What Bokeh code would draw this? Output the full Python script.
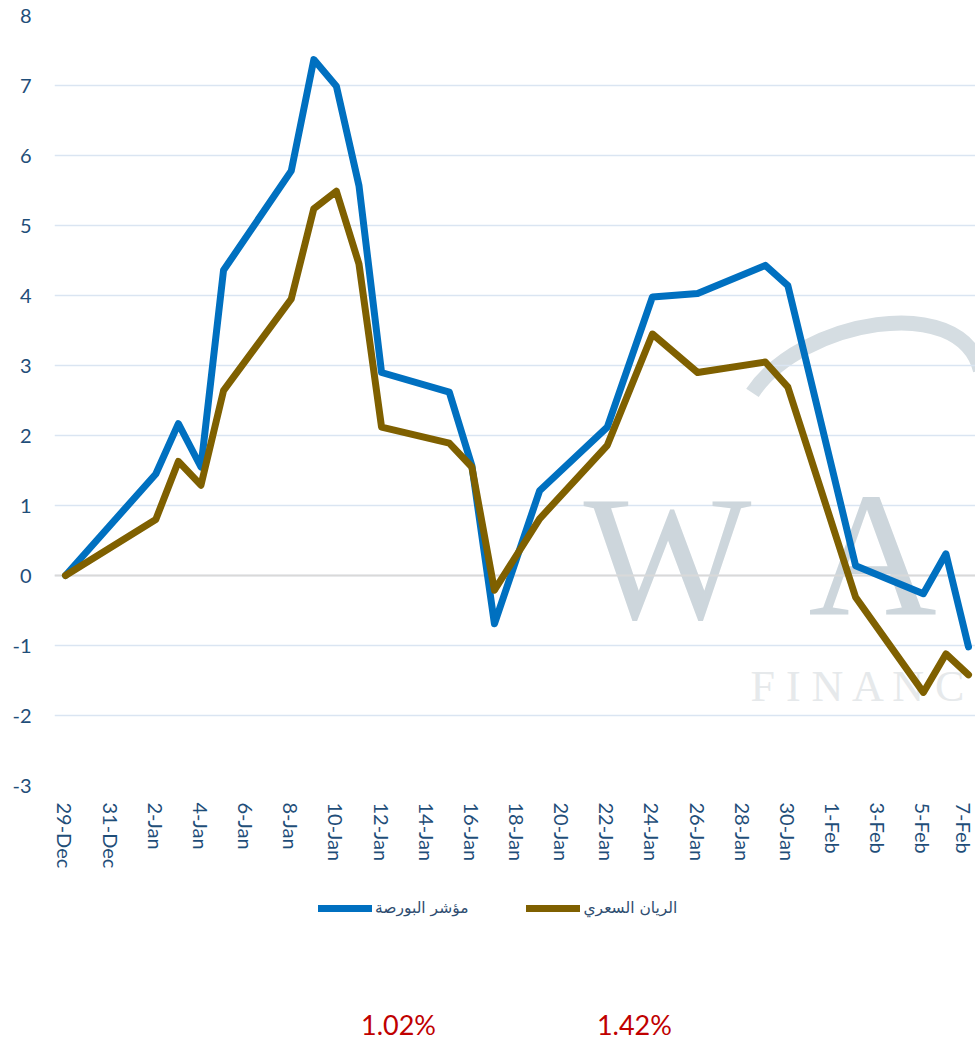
import pandas as pd
from bokeh.plotting import figure
from bokeh.layouts import column
from bokeh.models import Range1d, FixedTicker, Span, Legend, LegendItem, Label
from bokeh.core.properties import value
from bokeh.embed import file_html
from bokeh.resources import INLINE

# ---- data ----
dates = ["2017-12-29", "2018-01-02", "2018-01-03", "2018-01-04", "2018-01-05",
         "2018-01-08", "2018-01-09", "2018-01-10", "2018-01-11", "2018-01-12",
         "2018-01-15", "2018-01-16", "2018-01-17", "2018-01-19", "2018-01-22",
         "2018-01-24", "2018-01-26", "2018-01-29", "2018-01-30", "2018-02-02",
         "2018-02-05", "2018-02-06", "2018-02-07"]
index_series = [0.00, 1.45, 2.17, 1.55, 4.36, 5.78, 7.37, 6.99, 5.57, 2.90,
                2.62, 1.57, -0.69, 1.21, 2.12, 3.98, 4.03, 4.43, 4.14, 0.14,
                -0.26, 0.31, -1.02]
rayan_series = [0.00, 0.80, 1.63, 1.29, 2.64, 3.95, 5.24, 5.49, 4.45, 2.12,
                1.89, 1.55, -0.21, 0.81, 1.86, 3.45, 2.90, 3.05, 2.69, -0.31,
                -1.67, -1.12, -1.42]
index_name = "مؤشر البورصة"
rayan_name = "الريان السعري"
y_ticks = list(range(-3, 9))
tick_step_days = 2

# ---- derived ----
dt = pd.to_datetime(dates)
start = dt[0]
xdays = [(d - start).days for d in dt]
last_day = xdays[-1]
x_ticks = list(range(0, last_day + 1, tick_step_days))
x_labels = {t: (start + pd.Timedelta(days=t)).strftime("%-d-%b") for t in x_ticks}
y_labels = {t: str(t) for t in y_ticks}
final_changes = [f"{abs(s[-1]):.2f}%" for s in (index_series, rayan_series)]

BLUE = "#0070C0"
BROWN = "#7F6000"
TXT = "#1F4E79"
LW = 7
LEFT = 54

xr = Range1d(-0.487, 40.31)
p = figure(frame_width=921, frame_height=770, output_backend="svg",
           toolbar_location=None, x_range=xr, y_range=Range1d(-3, 8),
           min_border_left=LEFT, min_border_right=0, min_border_top=15,
           min_border_bottom=95)
p.outline_line_color = None

# axes
p.xaxis.ticker = FixedTicker(ticks=x_ticks)
p.xaxis.major_label_overrides = x_labels
p.xaxis.major_label_orientation = "vertical"
p.yaxis.ticker = FixedTicker(ticks=y_ticks)
p.yaxis.major_label_overrides = y_labels
for ax in (p.xaxis, p.yaxis):
    ax.axis_line_color = None
    ax.major_tick_line_color = None
    ax.minor_tick_line_color = None
    ax.major_tick_out = 0
    ax.major_tick_in = 0
    ax.minor_tick_out = 0
    ax.major_label_text_font = "Lato"
    ax.major_label_text_font_size = "20px"
    ax.major_label_text_color = TXT
p.yaxis.major_label_standoff = 23
p.xaxis.major_label_standoff = 17

p.xgrid.visible = False
p.ygrid.grid_line_color = "#DAE5F2"
p.ygrid.grid_line_width = 1.5

# watermark (logo behind the chart)
wm = dict(level="underlay", text_font="Liberation Serif",
          text_baseline="alphabetic")
p.bezier(x0=30.43, y0=2.61, x1=40.53, y1=2.93, cx0=32.56, cy0=3.64,
         cx1=39.65, cy1=4.07, line_color="#D5DDE2", line_width=15,
         line_cap="butt", level="underlay")
p.add_layout(Label(x=22.95, y=0.257, text="W", text_font_size="178px",
                   text_color="#CDD6DC", **wm))
p.add_layout(Label(x=32.9, y=0.30, text="A", text_font_size="178px",
                   text_color="#CDD6DC", **wm))
p.add_layout(Label(x=30.34, y=-1.58, text="F I N A N C", text_font_size="44px",
                   text_color="#E6E9EB", **wm))

zero = Span(location=0, dimension="width", line_color="#D9D9D9", line_width=2,
            level="underlay")
p.add_layout(zero)

p.line(xdays, index_series, line_color=BLUE, line_width=LW,
       line_join="round", line_cap="round")
p.line(xdays, rayan_series, line_color=BROWN, line_width=LW,
       line_join="round", line_cap="round")

# ---- strip below: legend and final changes ----
H2 = 161
p2 = figure(frame_width=921, frame_height=H2, output_backend="svg",
            toolbar_location=None, x_range=xr, y_range=Range1d(0, H2),
            min_border_left=LEFT, min_border_right=0, min_border_top=0,
            min_border_bottom=0, x_axis_location=None, y_axis_location=None)
p2.outline_line_color = None
p2.xgrid.visible = False
p2.ygrid.visible = False

nan = float("nan")
k1 = p2.line(x=[nan], y=[nan], line_color=BLUE, line_width=LW, line_cap="round")
k2 = p2.line(x=[nan], y=[nan], line_color=BROWN, line_width=LW, line_cap="round")
legend = Legend(items=[LegendItem(label=index_name, renderers=[k1]),
                       LegendItem(label=rayan_name, renderers=[k2])],
                orientation="horizontal", location=(264, 123),
                glyph_width=54, glyph_height=20, label_height=20,
                label_standoff=3, spacing=58,
                label_text_font="DejaVu Sans", label_text_font_size="15.5px",
                label_text_color="#2E4D70", border_line_color=None,
                background_fill_alpha=0, margin=0, padding=0)
p2.add_layout(legend, "center")

p2.text(x=[14.75, 25.2], y=[17, 17], text=final_changes,
        text_align="center", text_baseline="middle", text_color="#C00000",
        text_font=value("Lato"), text_font_size="27px")

layout = column(p, p2, spacing=0)
open("out.html", "w").write(file_html(layout, INLINE))
